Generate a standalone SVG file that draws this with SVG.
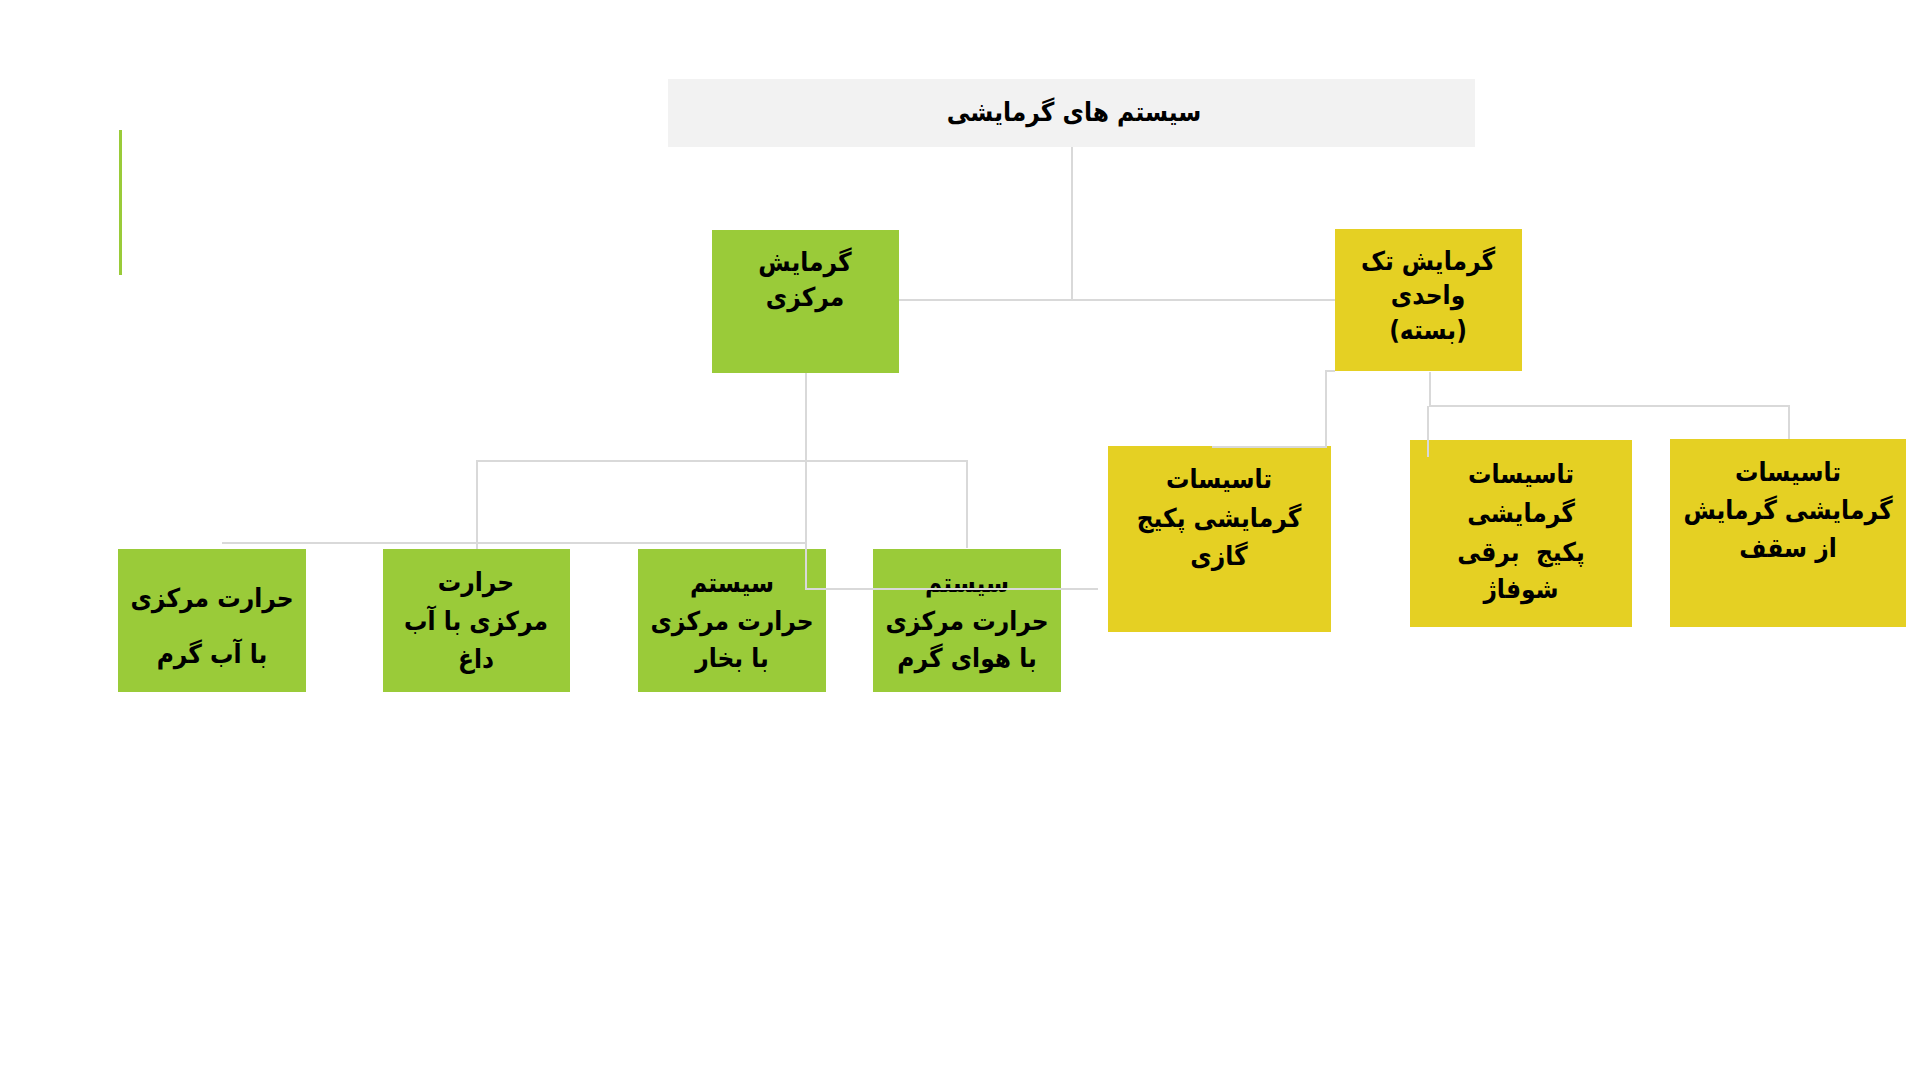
<svg xmlns="http://www.w3.org/2000/svg" width="1920" height="1080" viewBox="0 0 1920 1080">
<style>
.bg{fill:#ffffff}
.title{fill:#f2f2f2}
.green{fill:#9acb39}
.yellow{fill:#e5d023}
.t{font-family:"DejaVu Sans Condensed","DejaVu Sans",sans-serif;font-weight:bold;font-size:26px;fill:#000;text-anchor:middle;direction:rtl}
.tt{font-size:26px}
.conn{fill:none;stroke:#d9d9d9;stroke-width:2}
</style>
<rect class="bg" x="0" y="0" width="1920" height="1080"/>
<line x1="120.5" y1="130" x2="120.5" y2="275" stroke="#9acb39" stroke-width="3"/>
<g id="n-root">
<rect class="title" x="668" y="79" width="807" height="68"/>
<text class="t tt" x="1074" y="121">سیستم های گرمایشی</text>
</g>
<g id="n-central">
<rect class="green" x="712" y="230" width="187" height="143"/>
<text class="t" x="805" y="271">گرمایش</text>
<text class="t" x="805" y="306">مرکزی</text>
</g>
<g id="n-single">
<rect class="yellow" x="1335" y="229" width="187" height="142"/>
<text class="t" x="1428" y="270">گرمایش تک</text>
<text class="t" x="1428" y="304">واحدی</text>
<text class="t" x="1428" y="339">(بسته)</text>
</g>
<g id="n-hotwater">
<rect class="green" x="118" y="549" width="188" height="143"/>
<text class="t" x="212" y="607">حرارت مرکزی</text>
<text class="t" x="212" y="663">با آب گرم</text>
</g>
<g id="n-boilwater">
<rect class="green" x="383" y="549" width="187" height="143"/>
<text class="t" x="476" y="591">حرارت</text>
<text class="t" x="476" y="630">مرکزی با آب</text>
<text class="t" x="476" y="668">داغ</text>
</g>
<g id="n-steam">
<rect class="green" x="638" y="549" width="188" height="143"/>
<text class="t" x="732" y="592">سیستم</text>
<text class="t" x="732" y="630">حرارت مرکزی</text>
<text class="t" x="732" y="667">با بخار</text>
</g>
<g id="n-hotair">
<rect class="green" x="873" y="549" width="188" height="143"/>
<text class="t" x="967" y="592">سیستم</text>
<text class="t" x="967" y="630">حرارت مرکزی</text>
<text class="t" x="967" y="667">با هوای گرم</text>
</g>
<g id="n-gaspkg">
<rect class="yellow" x="1108" y="446" width="223" height="186"/>
<text class="t" x="1219" y="488">تاسیسات</text>
<text class="t" x="1219" y="527">گرمایشی پکیج</text>
<text class="t" x="1219" y="565">گازی</text>
</g>
<g id="n-elecpkg">
<rect class="yellow" x="1410" y="440" width="222" height="187"/>
<text class="t" x="1521" y="483">تاسیسات</text>
<text class="t" x="1521" y="522">گرمایشی</text>
<text class="t" x="1521" y="561" xml:space="preserve">پکیج  برقی</text>
<text class="t" x="1521" y="598">شوفاژ</text>
</g>
<g id="n-ceiling">
<rect class="yellow" x="1670" y="439" width="236" height="188"/>
<text class="t" x="1788" y="481">تاسیسات</text>
<text class="t" x="1788" y="519">گرمایشی گرمایش</text>
<text class="t" x="1788" y="557">از سقف</text>
</g>
<g id="connectors">
<path class="conn" d="M1072 147 V300 H899"/>
<path class="conn" d="M1072 300 H1335"/>
<path class="conn" d="M806 373 V589 H1098"/>
<path class="conn" d="M477 549 V461 H967 V548"/>
<path class="conn" d="M222 543 H806"/>
<path class="conn" d="M1335 371 H1326 V447 H1212"/>
<path class="conn" d="M1430 372 V406 H1789 V439"/>
<path class="conn" d="M1428 406 V457"/>
</g>
</svg>
